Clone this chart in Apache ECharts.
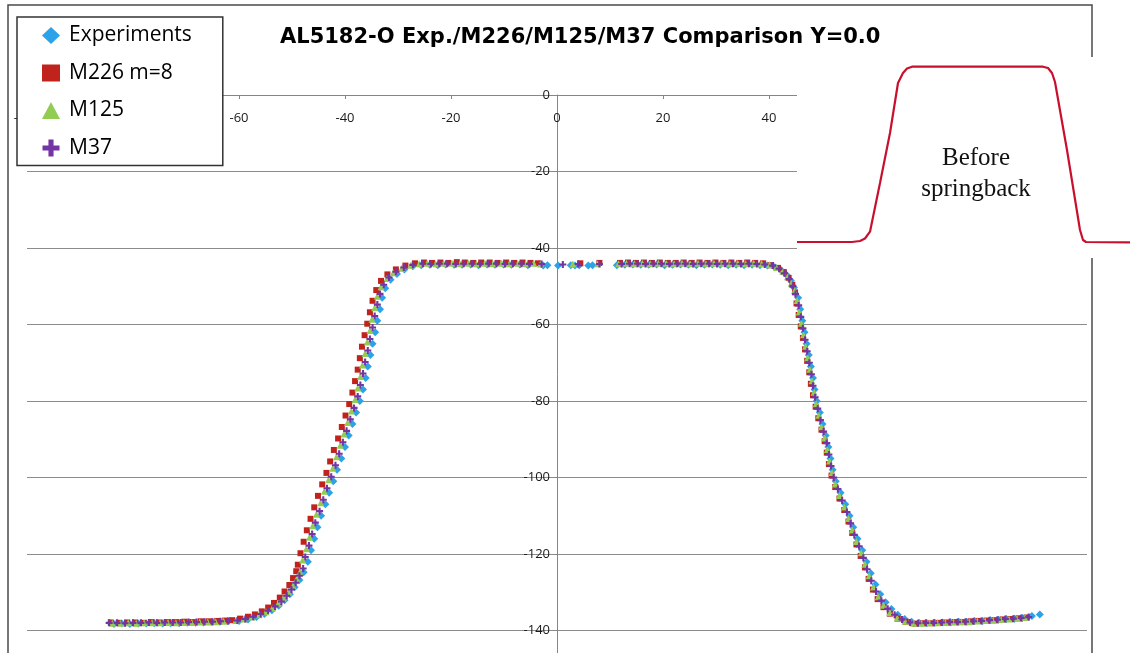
<!DOCTYPE html>
<html>
<head>
<meta charset="utf-8">
<script src="https://cdn.jsdelivr.net/npm/echarts@6/dist/echarts.min.js"></script>
<style>
  html, body { margin: 0; padding: 0; background: #fff; }
  #main { width: 1130px; height: 653px; }
</style>
</head>
<body>
<div id="main"></div>
<script>
const expData = [
  [-83.6,-138.3],[-82.1,-138.2],[-80.6,-138.3],[-79.0,-138.2],[-77.5,-138.2],[-76.0,-138.1],[-74.4,-138.2],[-72.9,-138.1],[-71.3,-138.1],[-69.8,-138.0],[-68.2,-138.0],[-66.7,-137.9],[-65.1,-137.8],[-63.6,-137.7],[-62.1,-137.6],
  [-60.0,-137.5],[-58.3,-137.1],[-56.7,-136.5],[-55.2,-135.7],[-53.8,-134.7],[-52.5,-133.5],[-51.4,-132.1],[-50.4,-130.5],[-49.5,-128.7],[-48.6,-126.8],[-47.8,-124.8],
  [-47.0,-122],[-46.4,-119],[-45.8,-116],[-45.2,-113],[-44.5,-110],[-43.7,-107],[-43.0,-104],[-42.2,-101],[-41.5,-98],[-40.7,-95],[-40.0,-92],[-39.3,-89],[-38.6,-86],[-37.9,-83],[-37.2,-80],[-36.6,-77],[-36.1,-74],[-35.7,-71],[-35.2,-68],[-34.8,-65],[-34.3,-62],[-33.9,-59],[-33.4,-56],[-33.0,-53],[-32.4,-50.5],[-31.4,-48.3],[-30.2,-46.8],[-28.8,-45.6],[-27.2,-44.8],
  [-25.6,-44.5],[-24.0,-44.4],[-22.5,-44.5],[-21.0,-44.3],[-19.4,-44.4],[-17.9,-44.4],[-16.3,-44.3],[-14.8,-44.5],[-13.2,-44.3],[-11.7,-44.4],[-10.1,-44.3],[-8.6,-44.4],[-7.0,-44.3],[-5.5,-44.5],
  [-2.6,-44.6],[-1.8,-44.5],[0.2,-44.6],[2.6,-44.5],[3.4,-44.6],[4.2,-44.5],[5.9,-44.6],[6.7,-44.5],
  [11.3,-44.5],[12.8,-44.4],[14.3,-44.3],[15.8,-44.4],[17.3,-44.4],[18.8,-44.3],[20.3,-44.5],[21.8,-44.4],[23.3,-44.3],[24.8,-44.4],[26.3,-44.5],[27.8,-44.4],[29.3,-44.3],[30.8,-44.4],[32.3,-44.5],[33.8,-44.4],[35.3,-44.5],[36.8,-44.4],[38.3,-44.5],[39.7,-44.6],
  [41.1,-45.0],[42.3,-45.8],[43.3,-47.0],[44.1,-48.5],[44.7,-50.3],
  [45.5,-53],[45.9,-56],[46.3,-59],[46.7,-62],[47.1,-65],[47.5,-68],[47.9,-71],[48.3,-74],[48.6,-77],[49.0,-80],[49.6,-83],[50.1,-86],[50.7,-89],[51.2,-92],[51.6,-95],[52.0,-98],[52.6,-101],[53.5,-104],[54.4,-107],[55.2,-110],[55.9,-113],[56.7,-116],[57.6,-119],[58.4,-122],[59.2,-125],[60.1,-128],[61.0,-130.5],[62.0,-132.6],[63.1,-134.4],[64.3,-135.9],[65.6,-137.0],[66.9,-137.7],
  [68.3,-138.0],[69.8,-138.1],[71.3,-138.0],[72.8,-137.9],[74.3,-137.9],[75.8,-137.7],[77.3,-137.7],[78.8,-137.5],[80.3,-137.5],[81.8,-137.3],[83.3,-137.2],[84.8,-137.0],[86.3,-136.9],[87.8,-136.7],[89.6,-136.2],[91.1,-135.8]
];

const m226Data = [
  [-84.2,-137.9],[-82.7,-138.0],[-81.1,-137.9],[-79.6,-137.9],[-78.0,-138.0],[-76.5,-137.8],[-75.0,-137.9],[-73.4,-137.8],[-71.9,-137.8],[-70.3,-137.7],[-68.8,-137.8],[-67.2,-137.6],[-65.7,-137.6],[-64.1,-137.5],[-62.6,-137.4],
  [-61.3,-137.3],[-59.8,-136.9],[-58.3,-136.4],[-57.0,-135.8],[-55.7,-135.0],[-54.5,-134.0],[-53.4,-132.8],[-52.3,-131.4],[-51.4,-129.8],[-50.5,-128.1],[-49.8,-126.3],[-49.2,-124.5],
  [-48.9,-122.8],[-48.4,-119.8],[-47.8,-116.8],[-47.2,-113.8],[-46.5,-110.8],[-45.8,-107.8],[-45.1,-104.8],[-44.3,-101.8],[-43.5,-98.8],[-42.8,-95.8],[-42.1,-92.8],[-41.3,-89.8],[-40.6,-86.8],[-39.9,-83.8],[-39.2,-80.8],[-38.6,-77.8],[-38.1,-74.8],[-37.6,-71.8],[-37.2,-68.8],[-36.8,-65.8],[-36.3,-62.8],[-35.8,-59.8],[-35.3,-56.8],[-34.8,-53.8],[-34.1,-51.0],[-33.2,-48.6],[-32.0,-46.9],[-30.4,-45.6],[-28.6,-44.6],[-26.8,-44.0],
  [-25.1,-43.8],[-23.6,-43.9],[-22.0,-43.8],[-20.5,-43.9],[-18.9,-43.7],[-17.4,-43.8],[-15.8,-43.9],[-14.3,-43.8],[-12.7,-43.8],[-11.2,-43.9],[-9.6,-43.8],[-8.1,-43.9],[-6.5,-43.8],[-5.0,-43.9],
  [-3.6,-44.0],[4.4,-44.0],[8.0,-43.9],
  [11.9,-43.9],[13.4,-43.8],[14.9,-43.9],[16.4,-43.8],[17.9,-43.9],[19.4,-43.8],[20.9,-43.9],[22.4,-43.9],[23.9,-43.8],[25.4,-43.9],[26.9,-43.8],[28.4,-43.9],[29.9,-43.8],[31.4,-43.9],[32.9,-43.8],[34.4,-43.9],[35.9,-43.8],[37.4,-43.9],[38.9,-44.0],
  [40.4,-44.5],[41.7,-45.2],[42.8,-46.3],[43.7,-47.8],[44.4,-49.6],[44.9,-51.6],
  [45.2,-54.5],[45.6,-57.5],[46.0,-60.5],[46.4,-63.5],[46.8,-66.5],[47.2,-69.5],[47.6,-72.5],[47.9,-75.5],[48.3,-78.5],[48.8,-81.5],[49.3,-84.5],[49.9,-87.5],[50.5,-90.5],[50.9,-93.5],[51.3,-96.5],[51.8,-99.5],[52.5,-102.5],[53.3,-105.5],[54.2,-108.5],[55.0,-111.5],[55.7,-114.5],[56.5,-117.5],[57.3,-120.5],[58.1,-123.5],[58.8,-126.5],[59.6,-129.3],[60.5,-131.8],[61.6,-133.9],[62.8,-135.6],[64.3,-136.9],[65.8,-137.7],
  [67.6,-138.2],[69.1,-138.1],[70.6,-138.1],[72.1,-138.0],[73.6,-137.9],[75.1,-137.8],[76.6,-137.8],[78.1,-137.6],[79.6,-137.5],[81.1,-137.4],[82.6,-137.3],[84.1,-137.1],[85.6,-137.0],[87.1,-136.8],[88.6,-136.6]
];

const m125Data = [
  [-83.9,-138.1],[-82.4,-138.1],[-80.9,-138.0],[-79.4,-138.1],[-77.9,-138.0],[-76.4,-138.0],[-74.9,-138.0],[-73.4,-137.9],[-71.9,-138.0],[-70.4,-137.9],[-68.9,-137.9],[-67.4,-137.8],[-65.9,-137.8],[-64.4,-137.7],[-62.9,-137.6],
  [-60.6,-137.4],[-59.1,-137.0],[-57.6,-136.5],[-56.2,-135.9],[-54.9,-135.1],[-53.7,-134.1],[-52.6,-132.9],[-51.6,-131.5],[-50.6,-130.0],[-49.8,-128.3],[-49.1,-126.5],[-48.5,-124.7],
  [-48.0,-121.6],[-47.3,-118.6],[-46.7,-115.6],[-46.1,-112.6],[-45.4,-109.6],[-44.6,-106.6],[-43.9,-103.6],[-43.1,-100.6],[-42.3,-97.6],[-41.6,-94.6],[-40.9,-91.6],[-40.2,-88.6],[-39.5,-85.6],[-38.8,-82.6],[-38.1,-79.6],[-37.6,-76.6],[-37.1,-73.6],[-36.7,-70.6],[-36.2,-67.6],[-35.8,-64.6],[-35.3,-61.6],[-34.9,-58.6],[-34.4,-55.6],[-33.9,-52.6],[-33.2,-50.1],[-32.1,-48.0],[-30.9,-46.5],[-29.3,-45.3],[-27.6,-44.5],
  [-26.0,-44.1],[-24.5,-44.0],[-22.9,-44.1],[-21.4,-44.0],[-19.8,-44.0],[-18.3,-44.1],[-16.7,-44.0],[-15.2,-44.1],[-13.6,-44.0],[-12.1,-44.1],[-10.5,-44.0],[-9.0,-44.1],[-7.4,-44.0],[-5.9,-44.1],[-4.4,-44.0],
  [-3.1,-44.2],[3.0,-44.2],[7.7,-44.1],
  [11.6,-44.1],[13.1,-44.0],[14.6,-44.1],[16.1,-44.0],[17.6,-44.1],[19.1,-44.0],[20.6,-44.0],[22.1,-44.1],[23.6,-44.0],[25.1,-44.1],[26.6,-44.0],[28.1,-44.1],[29.6,-44.0],[31.1,-44.0],[32.6,-44.1],[34.1,-44.0],[35.6,-44.1],[37.1,-44.0],[38.6,-44.1],
  [40.1,-44.4],[41.4,-45.1],[42.6,-46.1],[43.5,-47.5],[44.2,-49.2],[44.8,-51.2],
  [45.3,-53.7],[45.7,-56.7],[46.1,-59.7],[46.5,-62.7],[46.9,-65.7],[47.3,-68.7],[47.7,-71.7],[48.1,-74.7],[48.5,-77.7],[48.9,-80.7],[49.4,-83.7],[49.9,-86.7],[50.5,-89.7],[51.0,-92.7],[51.4,-95.7],[51.9,-98.7],[52.5,-101.7],[53.3,-104.7],[54.2,-107.7],[55.0,-110.7],[55.7,-113.7],[56.5,-116.7],[57.4,-119.7],[58.1,-122.7],[58.9,-125.7],[59.7,-128.6],[60.6,-131.2],[61.6,-133.4],[62.8,-135.3],[64.2,-136.7],[65.7,-137.6],
  [67.3,-138.1],[68.8,-138.1],[70.3,-138.0],[71.8,-138.0],[73.3,-137.9],[74.8,-137.8],[76.3,-137.7],[77.8,-137.7],[79.3,-137.5],[80.8,-137.4],[82.3,-137.3],[83.8,-137.1],[85.3,-137.0],[86.8,-136.8],[88.3,-136.6]
];

const m37Data = [
  [-84.5,-138.0],[-83.0,-138.0],[-81.5,-138.1],[-80.0,-138.0],[-78.5,-138.0],[-77.0,-137.9],[-75.5,-138.0],[-74.0,-137.9],[-72.5,-137.9],[-71.0,-137.9],[-69.5,-137.8],[-68.0,-137.8],[-66.5,-137.7],[-65.0,-137.7],[-63.5,-137.6],[-62.0,-137.5],
  [-60.3,-137.4],[-58.8,-137.0],[-57.3,-136.4],[-55.9,-135.7],[-54.5,-134.8],[-53.2,-133.7],[-52.0,-132.4],[-51.0,-130.9],[-50.1,-129.3],[-49.3,-127.5],[-48.6,-125.7],[-47.9,-123.8],
  [-47.5,-120.8],[-46.8,-117.8],[-46.2,-114.8],[-45.6,-111.8],[-44.8,-108.8],[-44.1,-105.8],[-43.4,-102.8],[-42.6,-99.8],[-41.8,-96.8],[-41.1,-93.8],[-40.4,-90.8],[-39.7,-87.8],[-39.0,-84.8],[-38.3,-81.8],[-37.6,-78.8],[-37.1,-75.8],[-36.6,-72.8],[-36.2,-69.8],[-35.7,-66.8],[-35.3,-63.8],[-34.8,-60.8],[-34.4,-57.8],[-33.9,-54.8],[-33.4,-52.0],[-32.7,-49.6],[-31.7,-47.7],[-30.4,-46.2],[-28.9,-45.1],[-27.2,-44.4],
  [-25.3,-44.1],[-23.8,-44.2],[-22.2,-44.1],[-20.7,-44.1],[-19.1,-44.2],[-17.6,-44.1],[-16.0,-44.1],[-14.5,-44.2],[-12.9,-44.1],[-11.4,-44.1],[-9.8,-44.2],[-8.3,-44.1],[-6.7,-44.1],[-5.2,-44.2],
  [-2.9,-44.2],[1.1,-44.3],[4.0,-44.2],[8.0,-44.2],
  [12.2,-44.2],[13.7,-44.1],[15.2,-44.1],[16.7,-44.2],[18.2,-44.1],[19.7,-44.1],[21.2,-44.2],[22.7,-44.1],[24.2,-44.1],[25.7,-44.2],[27.2,-44.1],[28.7,-44.1],[30.2,-44.2],[31.7,-44.1],[33.2,-44.1],[34.7,-44.2],[36.2,-44.1],[37.7,-44.2],[39.2,-44.3],
  [40.7,-44.6],[41.9,-45.4],[42.9,-46.6],[43.8,-48.1],[44.5,-49.9],[45.0,-52.0],
  [45.6,-55],[46.0,-58],[46.4,-61],[46.8,-64],[47.2,-67],[47.6,-70],[48.0,-73],[48.3,-76],[48.7,-79],[49.2,-82],[49.7,-85],[50.3,-88],[50.9,-91],[51.3,-94],[51.7,-97],[52.2,-100],[53.0,-103],[53.8,-106],[54.7,-109],[55.4,-112],[56.1,-115],[57.0,-118],[57.8,-121],[58.5,-124],[59.3,-127],[60.2,-129.8],[61.2,-132.2],[62.4,-134.3],[63.7,-135.9],[65.1,-137.1],
  [66.6,-137.9],[68.1,-138.1],[69.6,-138.0],[71.1,-138.0],[72.6,-137.9],[74.1,-137.8],[75.6,-137.8],[77.1,-137.7],[78.6,-137.6],[80.1,-137.5],[81.6,-137.3],[83.1,-137.2],[84.6,-137.0],[86.1,-136.9],[87.6,-136.7],[89.0,-136.5]
];

const seriesNames = ['Experiments', 'M226 m=8', 'M125', 'M37'];

// inset sketch "Before springback", in its own box units (x right, y down)
const insetX = [0, 55, 63, 68, 73, 83, 93, 101, 106, 110, 115, 246, 251, 255, 258, 270, 283, 286, 289, 291, 333];
const insetY = [185, 185, 184, 181.5, 174.7, 126, 76, 26, 16, 11.5, 9.7, 9.7, 11, 16, 25, 93, 173, 183, 185, 185.3, 185.3];

const plusPath = 'path://M35,0H65V35H100V65H65V100H35V65H0V35H35Z';
const font = '"Open Sans", "Liberation Sans", sans-serif';

const chart = echarts.init(document.getElementById('main'));

function scatter(name, data, symbol, size, color) {
  return {
    name: name,
    type: 'scatter',
    data: data,
    symbol: symbol,
    symbolSize: size,
    itemStyle: { color: color, opacity: 1 },
    xAxisIndex: 0,
    yAxisIndex: 0,
  };
}

chart.setOption({
  animation: false,
  title: {
    text: 'AL5182-O Exp./M226/M125/M37 Comparison Y=0.0',
    left: 280,
    top: 27,
    padding: 0,
    textStyle: { fontFamily: '"DejaVu Sans", sans-serif', fontSize: 21, fontWeight: 'bold', color: '#000' },
  },
  legend: {
    data: seriesNames,
    orient: 'vertical',
    left: 17,
    top: 17,
    padding: [8, 31, 7, 25],
    itemGap: 16.5,
    itemWidth: 18,
    itemHeight: 17,
    backgroundColor: '#fff',
    borderColor: '#333',
    borderWidth: 1.5,
    borderRadius: 0,
    textStyle: { fontFamily: font, fontSize: 21, color: '#000', lineHeight: 20, padding: [0, 0, 0, 4] },
  },
  grid: [
    { left: 27, top: 95, width: 1060, height: 612, outerBoundsMode: 'none', containLabel: false },
    { left: 797, top: 57, width: 333, height: 201, show: false, outerBoundsMode: 'none', containLabel: false },
  ],
  xAxis: [
    {
      type: 'value', gridIndex: 0, min: -100, max: 100, interval: 20, position: 'top',
      axisLine: { onZero: false, lineStyle: { color: '#868686', width: 1 } },
      axisTick: { show: true, inside: true, length: 4, lineStyle: { color: '#868686' } },
      axisLabel: { inside: true, margin: 17, fontFamily: font, fontSize: 13, color: '#1a1a1a' },
      splitLine: { show: false },
    },
    { type: 'value', gridIndex: 1, min: 0, max: 333, show: false },
  ],
  yAxis: [
    {
      type: 'value', gridIndex: 0, min: -160, max: 0, interval: 20,
      position: 'left', offset: -530,
      axisLine: { onZero: false, lineStyle: { color: '#868686', width: 1 } },
      axisTick: { show: true, length: 4, lineStyle: { color: '#868686' } },
      axisLabel: { margin: 7, fontFamily: font, fontSize: 13, color: '#1a1a1a' },
      splitLine: { show: true, lineStyle: { color: '#8c8c8c', width: 1 } },
    },
    { type: 'value', gridIndex: 1, min: 0, max: 201, inverse: true, show: false },
  ],
  graphic: [
    {
      type: 'rect', z: -1, silent: true,
      shape: { x: 8, y: 5, width: 1084, height: 720 },
      style: { fill: 'none', stroke: '#4a4a4a', lineWidth: 1.5 },
    },
    {
      type: 'rect', z: 10, silent: true,
      shape: { x: 797, y: 57, width: 333, height: 201 },
      style: { fill: '#fff' },
    },
    {
      type: 'text', z: 30, silent: true, x: 976, y: 173.5,
      style: {
        text: 'Before\nspringback',
        font: '25px "Liberation Serif", "DejaVu Serif", serif',
        fill: '#111',
        lineHeight: 31,
        align: 'center', textAlign: 'center',
        verticalAlign: 'middle', textVerticalAlign: 'middle',
      },
    },
  ],
  series: [
    scatter(seriesNames[0], expData, 'diamond', 8, '#2CA2E8'),
    scatter(seriesNames[1], m226Data, 'rect', 6, '#C0221C'),
    scatter(seriesNames[2], m125Data, 'triangle', 7, '#92CC52'),
    scatter(seriesNames[3], m37Data, plusPath, 7, '#7534A4'),
    {
      name: 'inset',
      type: 'line',
      xAxisIndex: 1,
      yAxisIndex: 1,
      z: 20,
      symbol: 'none',
      data: insetX.map((x, i) => [x, insetY[i]]),
      lineStyle: { color: '#C8102E', width: 2.2 },
      silent: true,
    },
  ],
});
</script>
</body>
</html>
